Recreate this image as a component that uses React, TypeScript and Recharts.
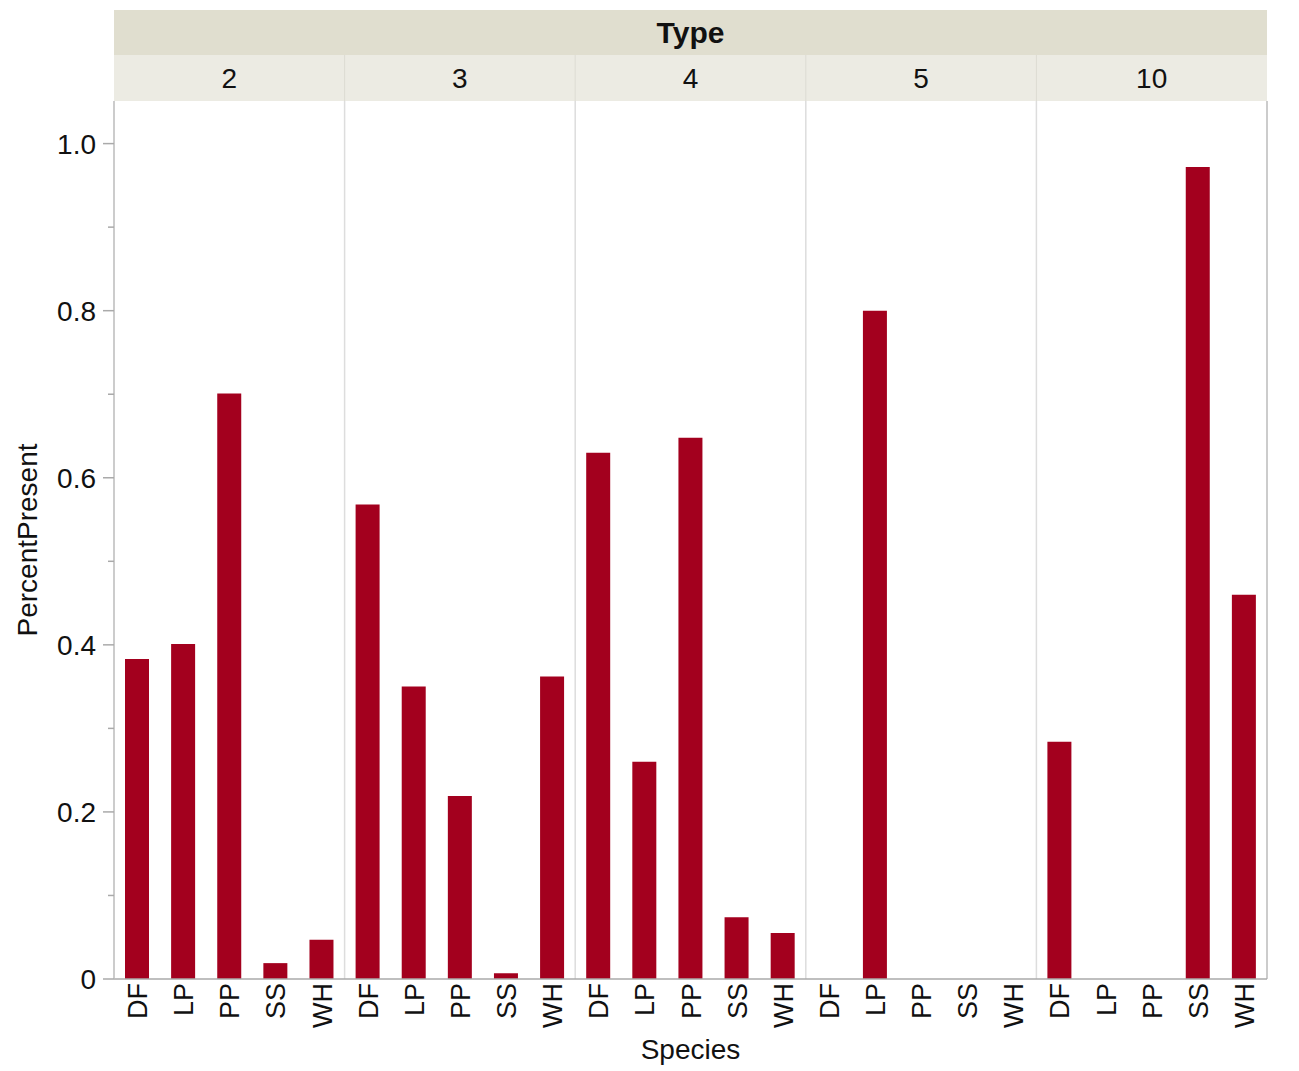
import React from 'react';
import { BarChart, Bar, XAxis, YAxis, ReferenceLine } from 'recharts';

const types = ['2', '3', '4', '5', '10'];
const species = ['DF', 'LP', 'PP', 'SS', 'WH'];
const type2 = [0.383, 0.401, 0.701, 0.019, 0.047];
const type3 = [0.568, 0.35, 0.219, 0.007, 0.362];
const type4 = [0.63, 0.26, 0.648, 0.074, 0.055];
const type5 = [0, 0.8, 0, 0, 0];
const type10 = [0.284, 0, 0, 0.972, 0.46];
const yTicks = [0, 0.1, 0.2, 0.3, 0.4, 0.5, 0.6, 0.7, 0.8, 0.9, 1.0];

const byType = [type2, type3, type4, type5, type10];
const data = byType.flatMap((vals, t) =>
  vals.map((v, s) => ({ x: t * species.length + s + 0.5, type: types[t], species: species[s], value: v }))
);
const nCats = types.length * species.length;

const W = 1299;
const H = 1071;
const LEFT = 114;
const RIGHT = 32;
const TOP_BAND = 10;
const TOP = 55;
const PANEL_H = 46;
const PLOT_W = W - LEFT - RIGHT;
const PANEL_W = PLOT_W / types.length;
const FONT = 'Liberation Sans, Arial, sans-serif';

const PanelTick = (props: any) => {
  const { x, payload } = props;
  const idx = Math.round((payload.value - 2.5) / 5);
  return (
    <g>
      <rect x={x - PANEL_W / 2} y={TOP} width={PANEL_W} height={PANEL_H} fill="#ecebe3" />
      {idx > 0 && <line x1={x - PANEL_W / 2} x2={x - PANEL_W / 2} y1={TOP} y2={TOP + PANEL_H} stroke="#dcdbd2" />}
      <text x={x} y={TOP + PANEL_H / 2 + 10} textAnchor="middle" fontSize={28} fontFamily={FONT} fill="#111">
        {types[idx]}
      </text>
    </g>
  );
};

const SpeciesTick = (props: any) => {
  const { x, y, payload } = props;
  const idx = Math.floor(payload.value) % species.length;
  const ty = y - 4;
  return (
    <text
      x={x}
      y={ty}
      transform={`rotate(-90 ${x} ${ty})`}
      textAnchor="end"
      dy={10}
      fontSize={27}
      fontFamily={FONT}
      fill="#111"
    >
      {species[idx]}
    </text>
  );
};

const YTick = (props: any) => {
  const { y, payload } = props;
  const v = payload.value;
  const major = Math.round(v * 10) % 2 === 0;
  return (
    <g>
      <line x1={LEFT - (major ? 11 : 6)} x2={LEFT} y1={y} y2={y} stroke="#aaa" strokeWidth={1.5} />
      {major && (
        <text x={LEFT - 18} y={y + 10} textAnchor="end" fontSize={28} fontFamily={FONT} fill="#111">
          {v === 0 ? '0' : v.toFixed(1)}
        </text>
      )}
    </g>
  );
};

export default function App() {
  return (
    <div style={{ position: 'absolute', left: 0, top: 0, width: W, height: H, background: '#fff' }}>
      <div
        style={{
          position: 'absolute',
          left: LEFT,
          top: TOP_BAND,
          width: PLOT_W,
          height: TOP - TOP_BAND,
          background: '#e0decf',
          fontFamily: FONT,
          fontWeight: 'bold',
          fontSize: 30,
          lineHeight: `${TOP - TOP_BAND}px`,
          textAlign: 'center',
          color: '#111',
        }}
      >
        Type
      </div>
      <BarChart
        width={W}
        height={H}
        data={data}
        margin={{ top: TOP, right: RIGHT, left: 0, bottom: 0 }}
        style={{ position: 'absolute', left: 0, top: 0 }}
      >
        <XAxis
          xAxisId="top"
          orientation="top"
          type="number"
          dataKey="x"
          domain={[0, nCats]}
          ticks={[2.5, 7.5, 12.5, 17.5, 22.5]}
          height={PANEL_H}
          axisLine={false}
          tickLine={false}
          tick={<PanelTick />}
          interval={0}
        />
        <XAxis
          xAxisId="bottom"
          type="number"
          dataKey="x"
          domain={[0, nCats]}
          ticks={data.map((d) => d.x)}
          height={92}
          interval={0}
          tickLine={false}
          axisLine={{ stroke: '#aaa', strokeWidth: 1.5 }}
          tick={<SpeciesTick />}
          label={{ value: 'Species', position: 'insideBottom', offset: 12, fontSize: 28, fontFamily: FONT, fill: '#111' }}
        />
        <YAxis
          type="number"
          domain={[0, 1.051]}
          ticks={yTicks}
          interval={0}
          width={LEFT}
          tickLine={false}
          axisLine={{ stroke: '#bbb', strokeWidth: 1.5 }}
          tick={<YTick />}
          label={{
            value: 'PercentPresent',
            angle: -90,
            position: 'insideLeft',
            offset: 27,
            fontSize: 28,
            fontFamily: FONT,
            fill: '#111',
            style: { textAnchor: 'middle' },
          }}
        />
        {[5, 10, 15, 20].map((v) => (
          <ReferenceLine key={v} x={v} xAxisId="bottom" stroke="#dddddd" strokeWidth={1.5} />
        ))}
        <ReferenceLine x={nCats} xAxisId="bottom" stroke="#bbb" strokeWidth={1.5} />
        <Bar dataKey="value" xAxisId="bottom" fill="#a3001e" barSize={24} isAnimationActive={false} />
      </BarChart>
    </div>
  );
}
